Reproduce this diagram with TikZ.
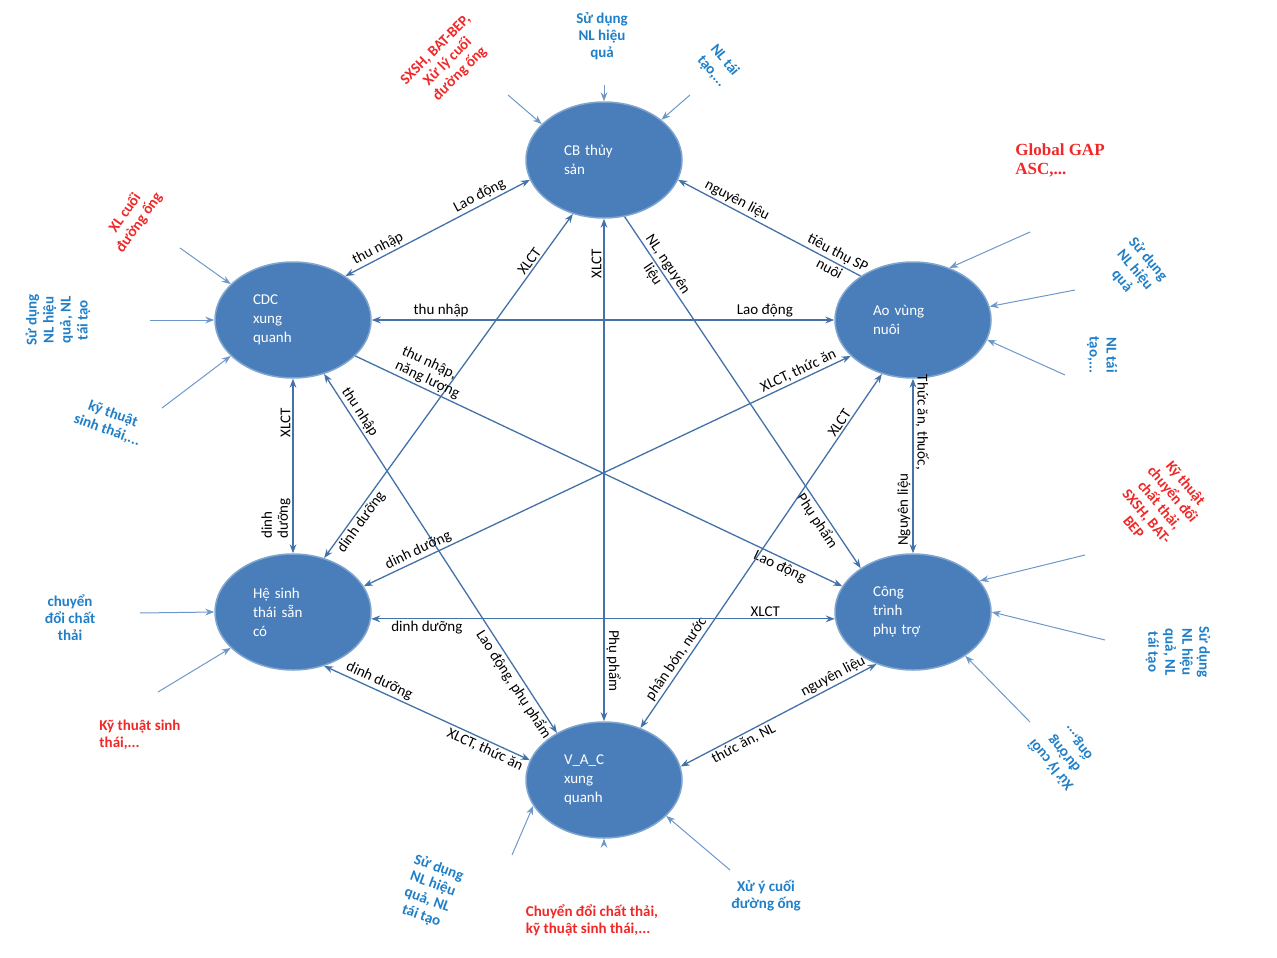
\documentclass[tikz,border=0pt]{standalone}
\usepackage{fontspec}
\setmainfont{Carlito}
\newfontfamily\serifgap{Liberation Serif}
\usetikzlibrary{shapes.geometric,arrows.meta}
\definecolor{nodeblue}{HTML}{4A7EBB}
\definecolor{lblue}{HTML}{1F7FC8}
\definecolor{lred}{HTML}{F02828}
\begin{document}
\begin{tikzpicture}[x=1pt,y=-1pt,
  nd/.style={ellipse,fill=nodeblue,draw=nodeblue!70!white,line width=1.5pt,minimum width=156pt,minimum height=116pt,text=white,align=left,font=\fontsize{15}{19}\selectfont,text width=80pt},
  con/.style={draw=nodeblue!90!black,line width=1.3pt,{Stealth[length=9pt]}-{Stealth[length=9pt]}},
  one/.style={draw=nodeblue!90!black,line width=1.3pt,-{Stealth[length=9pt]}},
  ext/.style={draw=nodeblue!80!white,line width=1pt,-{Stealth[length=9pt]}},
  el/.style={font=\fontsize{15}{16}\selectfont,sloped,inner sep=2pt,align=center},
  vl/.style={font=\fontsize{15}{16}\selectfont,inner sep=2pt,align=center},
  bl/.style={text=lblue,font=\bfseries\fontsize{15}{17}\selectfont,align=center},
  rd/.style={text=lred,font=\bfseries\fontsize{15}{17}\selectfont,align=center}]
\useasboundingbox (0,0) rectangle (1277,958);
\node[nd] (cb) at (604,160) {CB thủy\\sản};
\node[nd] (cdc) at (293,320) {CDC\\xung\\quanh};
\node[nd] (ao) at (913,320) {Ao vùng\\nuôi};
\node[nd] (hst) at (293,612) {Hệ sinh\\thái sẵn\\có};
\node[nd] (ct) at (913,612) {Công\\trình\\phụ trợ};
\node[nd] (vac) at (604,780) {V\_A\_C\\xung\\quanh};

\draw[con] (cdc.40) -- node[el,pos=.2,above]{thu nhập} node[el,pos=.75,above]{Lao động} (cb.195);
\draw[con] (cdc.east) -- node[el,pos=.15,above]{thu nhập} node[el,pos=.85,above]{Lao động} (ao.west);
\draw[one] (ao.140) -- node[el,pos=.15,above]{tiêu thụ SP} node[el,pos=.15,below]{nuôi} node[el,pos=.7,above]{nguyên liệu} (cb.-15);
\draw[con] (cb.south) -- node[vl,pos=.09,rotate=90,anchor=south]{XLCT} node[vl,pos=.88,rotate=-90,anchor=south]{Phụ phẩm} (vac.north);
\draw[one] (cb.-70) -- node[el,pos=.15,above]{NL, nguyên} node[el,pos=.15,below]{liệu} node[el,pos=.85,below]{Phụ phẩm} (ct.140);
\draw[con] (cb.240) -- node[el,pos=.15,above]{XLCT} node[el,pos=.88,below]{dinh dưỡng} (hst.60);
\draw[con] (cdc.south) -- node[vl,pos=.25,rotate=90,anchor=south]{XLCT} node[vl,pos=.8,rotate=90,anchor=south,align=left]{dinh\\dưỡng} (hst.north);
\draw[one] (cdc.-30) -- node[el,pos=.14,above,align=left]{thu nhập,\\năng lượng} node[el,pos=.88,below]{Lao động} (ct.160);
\draw[con] (cdc.-60) -- node[el,pos=.12,above]{thu nhập} node[el,pos=.85,below]{Lao động, phụ phẩm} (vac.135);
\draw[con] (ao.210) -- node[el,pos=.1,above]{XLCT, thức ăn} node[el,pos=.88,above]{dinh dưỡng} (hst.20);
\draw[con] (ao.240) -- node[el,pos=.15,above]{XLCT} node[el,pos=.82,above]{phân bón, nước} (vac.55);
\draw[con] (ao.south) -- node[vl,pos=.25,rotate=-90,anchor=south]{Thức ăn, thuốc,} node[vl,pos=.75,rotate=90,anchor=south]{Nguyên liệu} (ct.north);
\draw[con] (hst.-5) -- node[el,pos=.12,below]{dinh dưỡng} node[el,pos=.85,above]{XLCT} (ct.185);
\draw[con] (hst.-60) -- node[el,pos=.25,above]{dinh dưỡng} node[el,pos=.8,below]{XLCT, thức ăn} (vac.165);
\draw[con] (ct.-125) -- node[el,pos=.2,above]{nguyên liệu} node[el,pos=.7,below]{thức ăn, NL} (vac.10);

% external
\coordinate (e1) at (604,85); \draw[ext] (e1) -- (cb.north);
\node[bl] (t1) at (602,36) {Sử dụng\\NL hiệu\\quả};
\coordinate (e2) at (508,95); \draw[ext] (e2) -- (cb.150);
\node[rd,rotate=45] (t2) at (448,62) {SXSH, BAT-BEP,\\Xử lý cuối\\đường ống};
\coordinate (e3) at (690,95); \draw[ext] (e3) -- (cb.35);
\node[bl,rotate=-50] (t3) at (718,66) {NL tái\\tạo,...};
\node[text=lred,font=\serifgap\bfseries\fontsize{17}{19}\selectfont,align=left] (t4) at (1060,160) {Global GAP\\ASC,...};
\coordinate (e4) at (1030,232); \draw[ext] (e4) -- (ao.55);
\coordinate (e5) at (1075,290); \draw[ext] (e5) -- (ao.10);
\node[bl,rotate=-50] (t5) at (1135,270) {Sử dụng\\NL hiệu\\quả};
\coordinate (e6) at (1065,375); \draw[ext] (e6) -- (ao.-15);
\node[bl,rotate=-90] (t6) at (1102,355) {NL tái\\tạo,...};
\coordinate (e7) at (180,248); \draw[ext] (e7) -- (cdc.150);
\node[rd,rotate=55] (t7) at (132,218) {XL cuối\\đường ống};
\coordinate (e8) at (150,320); \draw[ext] (e8) -- (cdc.west);
\node[bl,rotate=90] (t8) at (58,320) {Sử dụng\\NL hiệu\\quả, NL\\tái tạo};
\coordinate (e9) at (162,408); \draw[ext] (e9) -- (cdc.210);
\node[bl,rotate=-20] (t9) at (110,422) {kỹ thuật\\sinh thái,...};
\coordinate (e10) at (140,613); \draw[ext] (e10) -- (hst.west);
\node[bl] (t10) at (70,618) {chuyển\\đổi chất\\thải};
\coordinate (e11) at (158,692); \draw[ext] (e11) -- (hst.210);
\node[rd,align=left] (t11) at (140,735) {Kỹ thuật sinh\\thái,...};
\coordinate (e12) at (1085,555); \draw[ext] (e12) -- (ct.25);
\node[rd,rotate=-50] (t12) at (1160,505) {Kỹ thuật\\chuyển đổi\\chất thải,\\SXSH, BAT-\\BEP};
\coordinate (e13) at (1105,640); \draw[ext] (e13) -- (ct.east);
\node[bl,rotate=-90] (t13) at (1178,652) {Sử dụng\\NL hiệu\\quả, NL\\tái tạo};
\coordinate (e14) at (1030,722); \draw[ext] (e14) -- (ct.-40);
\node[bl,rotate=130] (t14) at (1064,754) {Xử lý cuối\\đường\\ống,...};
\coordinate (e15) at (512,855); \draw[ext] (e15) -- (vac.200);
\node[bl,rotate=-20] (t15) at (430,892) {Sử dụng\\NL hiệu\\quả, NL\\tái tạo};
\coordinate (e16) at (604,840); \draw[ext] (e16) -- (vac.south);
\node[rd,align=left] (t16) at (592,920) {Chuyển đổi chất thải,\\kỹ thuật sinh thái,...};
\coordinate (e17) at (730,870); \draw[ext] (e17) -- (vac.-30);
\node[bl] (t17) at (766,896) {Xử ý cuối\\đường ống};
\end{tikzpicture}
\end{document}
